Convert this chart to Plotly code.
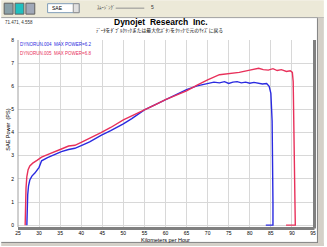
import plotly.graph_objects as go

# ---- data ----
blue_speed = [27.1, 27.15, 27.3, 27.5, 27.8, 28.3, 29.0, 30.0, 30.6, 32.0, 33.5, 35.3, 37.0, 38.5, 40.0, 42.0, 44.7, 47.0, 50.0,
              52.0, 55.0, 57.5, 60.0, 62.5, 65.0, 67.5, 70.0, 71.5, 72.8, 74.0, 75.0, 76.0, 77.0, 78.0, 79.0, 80.0,
              81.0, 82.0, 83.0, 84.0, 84.6, 85.0, 85.3, 85.5, 85.5, 83.8]
blue_power = [0.0, 0.6, 1.3, 1.7, 1.95, 2.12, 2.25, 2.5, 2.78, 2.92, 3.05, 3.18, 3.27, 3.32, 3.44, 3.6, 3.88, 4.08, 4.38,
              4.6, 4.98, 5.2, 5.4, 5.62, 5.86, 6.02, 6.1, 6.18, 6.15, 6.2, 6.12, 6.18, 6.2, 6.15, 6.18, 6.13,
              6.17, 6.13, 6.1, 6.12, 6.0, 5.7, 4.5, 1.0, 0.0, 0.0]
red_speed = [26.7, 26.75, 26.9, 27.1, 27.4, 27.8, 28.5, 29.5, 30.6, 32.0, 33.5, 35.3, 37.0, 38.5, 40.0, 42.0, 44.7, 47.0, 50.0,
             52.0, 55.0, 57.5, 60.0, 62.5, 65.0, 67.5, 70.0, 72.8, 75.0, 77.5, 80.0, 82.1, 83.2, 84.4, 85.5, 86.5,
             87.5, 88.7, 89.6, 90.1, 90.3, 90.6, 90.8, 90.8, 88.6]
red_power = [0.0, 0.8, 1.6, 2.1, 2.4, 2.56, 2.68, 2.8, 2.94, 3.05, 3.15, 3.29, 3.42, 3.45, 3.58, 3.75, 4.0, 4.22, 4.55,
             4.72, 5.0, 5.2, 5.42, 5.6, 5.8, 6.05, 6.28, 6.5, 6.55, 6.6, 6.7, 6.78, 6.72, 6.7, 6.76, 6.68,
             6.72, 6.64, 6.67, 6.6, 6.2, 3.0, 0.3, 0.0, 0.0]
x_ticks = [25, 30, 35, 40, 45, 50, 55, 60, 65, 70, 75, 80, 85, 90, 95]
y_ticks = [0, 1, 2, 3, 4, 5, 6, 7, 8]
legend_texts = ["DYNORUN.004  MAX POWER=6.2", "DYNORUN.005  MAX POWER=6.8"]

BLUE = "#2a2ae0"
RED = "#e8305a"

W, H = 327, 247
ML, MR, MT, MB = 17, 11, 40, 19
PW, PH = W - ML - MR, H - MT - MB


def px(x):
    return (x - ML) / PW


def py(y):
    return (H - MB - y) / PH


fig = go.Figure()
fig.add_trace(go.Scatter(x=blue_speed, y=blue_power, mode="lines",
                         line=dict(color=BLUE, width=1.4), showlegend=False))
fig.add_trace(go.Scatter(x=red_speed, y=red_power, mode="lines",
                         line=dict(color=RED, width=1.4), showlegend=False))

FONT = "Liberation Sans, Arial, sans-serif"
shapes = []
# toolbar background
shapes.append(dict(type="rect", xref="paper", yref="paper", x0=px(0), x1=px(W), y0=py(0), y1=py(17.5),
                   fillcolor="#ece9d8", line=dict(width=0), layer="below"))
shapes.append(dict(type="line", xref="paper", yref="paper", x0=px(0), x1=px(W), y0=py(17.5), y1=py(17.5),
                   line=dict(color="#a0a0a0", width=1)))
# right and bottom window frame
shapes.append(dict(type="rect", xref="paper", yref="paper", x0=px(321), x1=px(W), y0=py(17.5), y1=py(H),
                   fillcolor="#d4d0c8", line=dict(width=0)))
shapes.append(dict(type="rect", xref="paper", yref="paper", x0=px(0), x1=px(W), y0=py(244), y1=py(H),
                   fillcolor="#d4d0c8", line=dict(width=0)))
shapes.append(dict(type="line", xref="paper", yref="paper", x0=px(320.5), x1=px(320.5), y0=py(18), y1=py(244),
                   line=dict(color="#808080", width=1)))
shapes.append(dict(type="line", xref="paper", yref="paper", x0=px(0), x1=px(321), y0=py(243.5), y1=py(243.5),
                   line=dict(color="#808080", width=1)))
# toolbar icons
for i, c in enumerate(["#8aa0a8", "#20c0c0", "#a0a8b8"]):
    shapes.append(dict(type="rect", xref="paper", yref="paper", x0=px(3 + i * 11), x1=px(12 + i * 11),
                       y0=py(3), y1=py(14), fillcolor=c, line=dict(color="#606060", width=1)))
# dropdown
shapes.append(dict(type="rect", xref="paper", yref="paper", x0=px(47), x1=px(79), y0=py(3.5), y1=py(12.5),
                   fillcolor="white", line=dict(color="#7f9db9", width=1)))
shapes.append(dict(type="rect", xref="paper", yref="paper", x0=px(73), x1=px(79), y0=py(3.5), y1=py(12.5),
                   fillcolor="#e0e0e0", line=dict(color="#909090", width=1)))
# slider
shapes.append(dict(type="line", xref="paper", yref="paper", x0=px(116), x1=px(145), y0=py(8), y1=py(8),
                   line=dict(color="#909090", width=1)))
# plot frame: thin left/top, thick right/bottom
shapes.append(dict(type="line", xref="paper", yref="paper", x0=0, x1=0, y0=0, y1=1,
                   line=dict(color="#a0a0a0", width=1)))
shapes.append(dict(type="line", xref="paper", yref="paper", x0=0, x1=px(W - MR + 1.5), y0=py(H - MB + 1.5),
                   y1=py(H - MB + 1.5), line=dict(color="#808080", width=3)))
shapes.append(dict(type="line", xref="paper", yref="paper", x0=px(W - MR + 1.5), x1=px(W - MR + 1.5),
                   y0=py(H - MB + 1.5), y1=1, line=dict(color="#808080", width=3)))

ann = []
ann.append(dict(text="<b>Dynojet  Research  Inc.</b>", x=px(162), y=py(21.5), xref="paper", yref="paper",
                showarrow=False, font=dict(family=FONT, size=8.5, color="black"), xanchor="center",
                yanchor="middle"))
ann.append(dict(text="ﾃﾞｰﾀをﾀﾞﾌﾞﾙｸﾘｯｸまたは最大化ﾎﾞﾀﾝをｸﾘｯｸで元のｻｲｽﾞに戻る", x=px(160), y=py(30),
                xref="paper", yref="paper", showarrow=False,
                font=dict(family="Noto Sans CJK JP", size=4.8, color="black"), xanchor="center", yanchor="middle"))
ann.append(dict(text="71.471, 4.558", x=px(2), y=py(22), xref="paper", yref="paper", showarrow=False,
                font=dict(family=FONT, size=4.5, color="#333"), xanchor="left", yanchor="middle"))
ann.append(dict(text="SAE", x=px(49), y=py(8), xref="paper", yref="paper", showarrow=False,
                font=dict(family=FONT, size=5, color="black"), xanchor="left", yanchor="middle"))
ann.append(dict(text="ｽﾑｰｼﾞﾝｸﾞ", x=px(95), y=py(7), xref="paper", yref="paper", showarrow=False,
                font=dict(family="Noto Sans CJK JP", size=4.5, color="#333"), xanchor="left", yanchor="middle"))
ann.append(dict(text="5", x=px(150), y=py(7), xref="paper", yref="paper", showarrow=False,
                font=dict(family=FONT, size=5, color="#333"), xanchor="left", yanchor="middle"))
ann.append(dict(text=legend_texts[0], x=px(17), y=py(44.5), xref="paper", yref="paper", showarrow=False,
                font=dict(family=FONT, size=4.5, color=BLUE), xanchor="left", yanchor="middle"))
ann.append(dict(text=legend_texts[1], x=px(17), y=py(53.5), xref="paper", yref="paper", showarrow=False,
                font=dict(family=FONT, size=4.5, color=RED), xanchor="left", yanchor="middle"))
ann.append(dict(text="SAE Power  (PS)", x=px(6), y=py(130), xref="paper", yref="paper", showarrow=False,
                textangle=-90, font=dict(family=FONT, size=5.5, color="black"), xanchor="center", yanchor="middle"))
ann.append(dict(text="Kilometers per Hour", x=px(166), y=py(241), xref="paper", yref="paper", showarrow=False,
                font=dict(family=FONT, size=5.5, color="black"), xanchor="center", yanchor="middle"))

fig.update_layout(
    width=W, height=H, margin=dict(l=ML, r=MR, t=MT, b=MB),
    paper_bgcolor="white", plot_bgcolor="white",
    xaxis=dict(range=[25, 95], tickvals=x_ticks, ticktext=[str(v) for v in x_ticks],
               showgrid=True, gridcolor="#d8d8d8", gridwidth=1, zeroline=False, showline=False,
               tickfont=dict(family=FONT, size=5, color="black"), ticks="", ticklabelstandoff=2),
    yaxis=dict(range=[-0.08, 8], tickvals=y_ticks, ticktext=[str(v) for v in y_ticks],
               showgrid=True, gridcolor="#d8d8d8", gridwidth=1, zeroline=False, showline=False,
               tickfont=dict(family=FONT, size=5, color="black"), ticks="", ticklabelstandoff=3),
    shapes=shapes, annotations=ann, showlegend=False,
)
fig.write_html("out.html")
